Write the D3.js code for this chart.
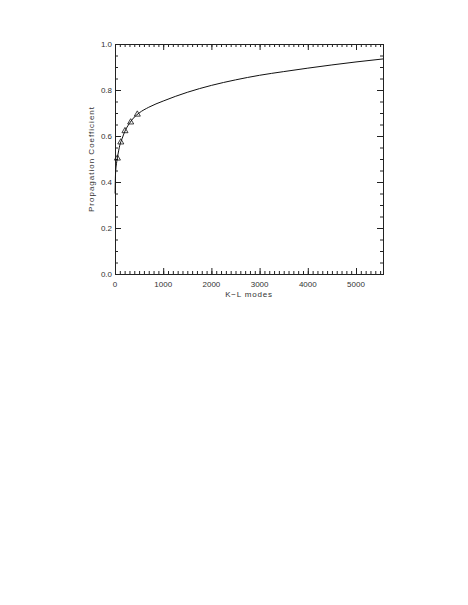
<!DOCTYPE html>
<meta charset="utf-8">
<style>
body { margin: 0; background: #fff; }
text { font-family: "Liberation Sans", Arial, sans-serif; fill: #333; }
</style>
<body>
<script src="https://d3js.org/d3.v7.min.js"></script>
<script>

// fitted curve
var curveModes = [2, 10, 25, 50, 100, 150, 200, 300, 400, 500, 700, 1000, 1500, 2000, 2500, 3000, 3500, 4000, 4500, 5000, 5560];
var curveCoef  = [0.35, 0.43, 0.47, 0.505, 0.56, 0.59, 0.618, 0.655, 0.682, 0.70, 0.725, 0.752, 0.79, 0.82, 0.844, 0.864, 0.88, 0.895, 0.909, 0.922, 0.935];

// measured points (triangles)
var pointModes = [50, 120, 207, 325, 463];
var pointCoef  = [0.503, 0.573, 0.622, 0.66, 0.694];

var xTicks = [0, 1000, 2000, 3000, 4000, 5000];
var yTicks = [0.0, 0.2, 0.4, 0.6, 0.8, 1.0];

var plotL = 115, plotR = 383, plotT = 44, plotB = 274;

var svg = d3.select("body").append("svg")
    .attr("width", 468)
    .attr("height", 605);

var x = d3.scaleLinear().domain([0, 5560]).range([plotL, plotR]);
var y = d3.scaleLinear().domain([0, 1]).range([plotB, plotT]);

// ticks on all four sides, pointing inward (IDL style)
var xMinor = d3.range(0, 5561, 100);
var yMinor = d3.range(0, 1.001, 0.05);

svg.append("g")
    .attr("transform", "translate(0," + plotB + ")")
    .call(d3.axisTop(x).tickValues(xMinor).tickSize(3).tickFormat(""));
svg.append("g")
    .attr("transform", "translate(0," + plotB + ")")
    .call(d3.axisTop(x).tickValues(xTicks).tickSize(6).tickFormat(""));
svg.append("g")
    .attr("transform", "translate(0," + plotT + ")")
    .call(d3.axisBottom(x).tickValues(xMinor).tickSize(3).tickFormat(""));
svg.append("g")
    .attr("transform", "translate(0," + plotT + ")")
    .call(d3.axisBottom(x).tickValues(xTicks).tickSize(6).tickFormat(""));
svg.append("g")
    .attr("transform", "translate(" + plotL + ",0)")
    .call(d3.axisRight(y).tickValues(yMinor).tickSize(3).tickFormat(""));
svg.append("g")
    .attr("transform", "translate(" + plotL + ",0)")
    .call(d3.axisRight(y).tickValues(yTicks).tickSize(6).tickFormat(""));
svg.append("g")
    .attr("transform", "translate(" + plotR + ",0)")
    .call(d3.axisLeft(y).tickValues(yMinor).tickSize(3).tickFormat(""));
svg.append("g")
    .attr("transform", "translate(" + plotR + ",0)")
    .call(d3.axisLeft(y).tickValues(yTicks).tickSize(6).tickFormat(""));

svg.selectAll(".domain").attr("stroke", "#222");
svg.selectAll(".tick line").attr("stroke", "#222");

// tick labels
svg.selectAll(".xlab")
    .data(xTicks)
  .enter().append("text")
    .attr("x", function(d) { return x(d); })
    .attr("y", plotB + 12.5)
    .attr("text-anchor", "middle")
    .attr("font-size", 8)
    .text(function(d) { return d; });

svg.selectAll(".ylab")
    .data(yTicks)
  .enter().append("text")
    .attr("x", plotL - 3)
    .attr("y", function(d) { return y(d) + 3; })
    .attr("text-anchor", "end")
    .attr("font-size", 8)
    .text(function(d) { return d.toFixed(1); });

// axis titles
svg.append("text")
    .attr("x", (plotL + plotR) / 2)
    .attr("y", plotB + 22.5)
    .attr("text-anchor", "middle")
    .attr("font-size", 8)
    .attr("letter-spacing", 0.8)
    .text("K\u2212L modes");

svg.append("text")
    .attr("transform", "translate(94," + (plotT + plotB) / 2 + ") rotate(-90)")
    .attr("text-anchor", "middle")
    .attr("font-size", 8)
    .attr("letter-spacing", 1)
    .text("Propagation Coefficient");

// curve
var line = d3.line()
    .x(function(d, i) { return x(curveModes[i]); })
    .y(function(d) { return y(d); })
    .curve(d3.curveMonotoneX);

svg.append("path")
    .datum(curveCoef)
    .attr("fill", "none")
    .attr("stroke", "#111")
    .attr("stroke-width", 1)
    .attr("d", line);

// triangles
svg.selectAll(".pt")
    .data(pointCoef)
  .enter().append("path")
    .attr("transform", function(d, i) { return "translate(" + x(pointModes[i]) + "," + y(d) + ")"; })
    .attr("d", d3.symbol().type(d3.symbolTriangle).size(16))
    .attr("fill", "none")
    .attr("stroke", "#111")
    .attr("stroke-width", 0.8);

</script>
</body>
